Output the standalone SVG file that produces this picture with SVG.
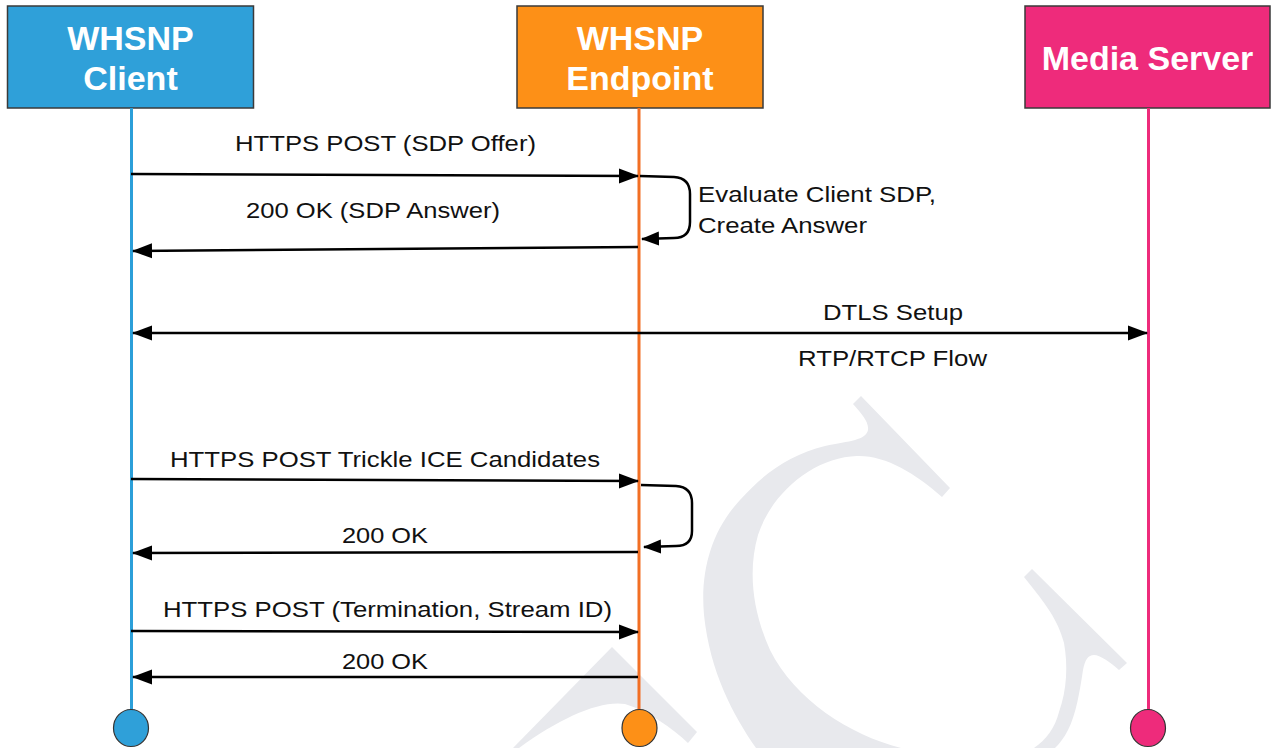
<svg xmlns="http://www.w3.org/2000/svg" width="1271" height="748" viewBox="0 0 1271 748">
  <defs>
    <marker id="arrow" viewBox="0 0 20 16" markerUnits="userSpaceOnUse" markerWidth="20" markerHeight="16" refX="19" refY="8" orient="auto-start-reverse">
      <path d="M0,0.5 L20,8 L0,15.5 Z" fill="#000"/>
    </marker>
    <marker id="arrowSmall" viewBox="0 0 18 16" markerUnits="userSpaceOnUse" markerWidth="18" markerHeight="16" refX="17" refY="8" orient="auto">
      <path d="M0,1 L18,8 L0,15 Z" fill="#000"/>
    </marker>
  </defs>
  <style>
    .box { stroke: #3a3a3a; stroke-width: 1.5; }
    .head { font-family: "Liberation Sans", Arial, sans-serif; font-weight: bold; font-size: 34px; fill: #ffffff; text-anchor: middle; }
    .lbl { font-family: "Liberation Sans", Arial, sans-serif; font-size: 22.5px; fill: #111111; }
    .msg { fill: none; stroke: #000; stroke-width: 2.5; }
    .life { fill: none; stroke-width: 3; }
    .end { stroke: #333; stroke-width: 1.2; }
    .wm { fill: #e8e9ed; }
  </style>
  <rect x="0" y="0" width="1271" height="748" fill="#ffffff"/>

  <g id="watermark">
    <path class="wm" d="M853,404 L861,396 L950,488 L942,497 C915,473 885,455 857,456 C815,457 772,492 758,535 C748,570 752,610 770,650 C795,700 850,735 901,748 L756,748 C733,715 710,672 704,615 C700,570 712,530 740,500 C765,472 790,455 825,446 C850,441 866,440 868,430 C869,422 862,414 853,404 Z"/>
    <path class="wm" d="M1024,577 L1032,569 L1127,663 L1119,670 C1110,662 1100,655 1094,655 C1088,655 1085,660 1083,670 C1080,690 1076,715 1068,730 C1064,738 1059,744 1055,748 L1034,748 C1046,740 1055,728 1059,712 C1067,690 1068,665 1064,643 C1058,620 1046,604 1024,577 Z"/>
    <path class="wm" d="M513,748 L612,647 L697,732 L688,743 C672,728 650,712 625,704 C600,700 560,718 519,748 Z"/>
  </g>

  <g id="node-client">
    <rect class="box" x="7.5" y="6" width="246" height="102" fill="#2fa0d9"/>
    <text class="head" x="130.5" y="50">WHSNP</text>
    <text class="head" x="130.5" y="90">Client</text>
    <line class="life" x1="131.5" y1="108" x2="131.5" y2="710" stroke="#2b9fd9"/>
    <ellipse class="end" cx="131" cy="728" rx="17.5" ry="18.5" fill="#2fa0d9"/>
  </g>

  <g id="node-endpoint">
    <rect class="box" x="517" y="6" width="246" height="102" fill="#fd9017"/>
    <text class="head" x="640" y="50">WHSNP</text>
    <text class="head" x="640" y="90">Endpoint</text>
    <line class="life" x1="639" y1="108" x2="639" y2="710" stroke="#f26f24"/>
    <ellipse class="end" cx="639.5" cy="728" rx="17.5" ry="18.5" fill="#fd9017"/>
  </g>

  <g id="node-media-server">
    <rect class="box" x="1025" y="6" width="245" height="102" fill="#ee2b7b"/>
    <text class="head" x="1147.5" y="70">Media Server</text>
    <line class="life" x1="1148.5" y1="108" x2="1148.5" y2="710" stroke="#ee2b7b"/>
    <ellipse class="end" cx="1148" cy="728" rx="17.5" ry="18.5" fill="#ee2b7b"/>
  </g>

  <g id="connectors">
    <path class="msg" d="M131,174 L638,176" marker-end="url(#arrow)"/>
    <path class="msg" d="M640,176 L674,177 Q690,178 690,194 L690,222 Q690,238 674,238 L642,239" marker-end="url(#arrowSmall)"/>
    <path class="msg" d="M638,247 L133,251" marker-end="url(#arrow)"/>
    <path class="msg" d="M133,333 L1147,333" marker-start="url(#arrow)" marker-end="url(#arrow)"/>
    <path class="msg" d="M131,479 L638,481" marker-end="url(#arrow)"/>
    <path class="msg" d="M641,485 L676,486 Q692,487 692,503 L692,531 Q692,546 676,546 L644,547" marker-end="url(#arrowSmall)"/>
    <path class="msg" d="M638,552 L133,553" marker-end="url(#arrow)"/>
    <path class="msg" d="M131,631 L638,632" marker-end="url(#arrow)"/>
    <path class="msg" d="M638,677 L133,677" marker-end="url(#arrow)"/>
  </g>

  <g id="labels">
    <text class="lbl" x="235" y="151" textLength="301" lengthAdjust="spacingAndGlyphs">HTTPS POST (SDP Offer)</text>
    <text class="lbl" x="246" y="218" textLength="254" lengthAdjust="spacingAndGlyphs">200 OK (SDP Answer)</text>
    <text class="lbl" x="698" y="202" textLength="238" lengthAdjust="spacingAndGlyphs">Evaluate Client SDP,</text>
    <text class="lbl" x="698" y="233" textLength="169" lengthAdjust="spacingAndGlyphs">Create Answer</text>
    <text class="lbl" x="823" y="320" textLength="140" lengthAdjust="spacingAndGlyphs">DTLS Setup</text>
    <text class="lbl" x="798" y="366" textLength="189" lengthAdjust="spacingAndGlyphs">RTP/RTCP Flow</text>
    <text class="lbl" x="170" y="467" textLength="430" lengthAdjust="spacingAndGlyphs">HTTPS POST Trickle ICE Candidates</text>
    <text class="lbl" x="342" y="543" textLength="86" lengthAdjust="spacingAndGlyphs">200 OK</text>
    <text class="lbl" x="163" y="617" textLength="449" lengthAdjust="spacingAndGlyphs">HTTPS POST (Termination, Stream ID)</text>
    <text class="lbl" x="342" y="669" textLength="86" lengthAdjust="spacingAndGlyphs">200 OK</text>
  </g>
</svg>
